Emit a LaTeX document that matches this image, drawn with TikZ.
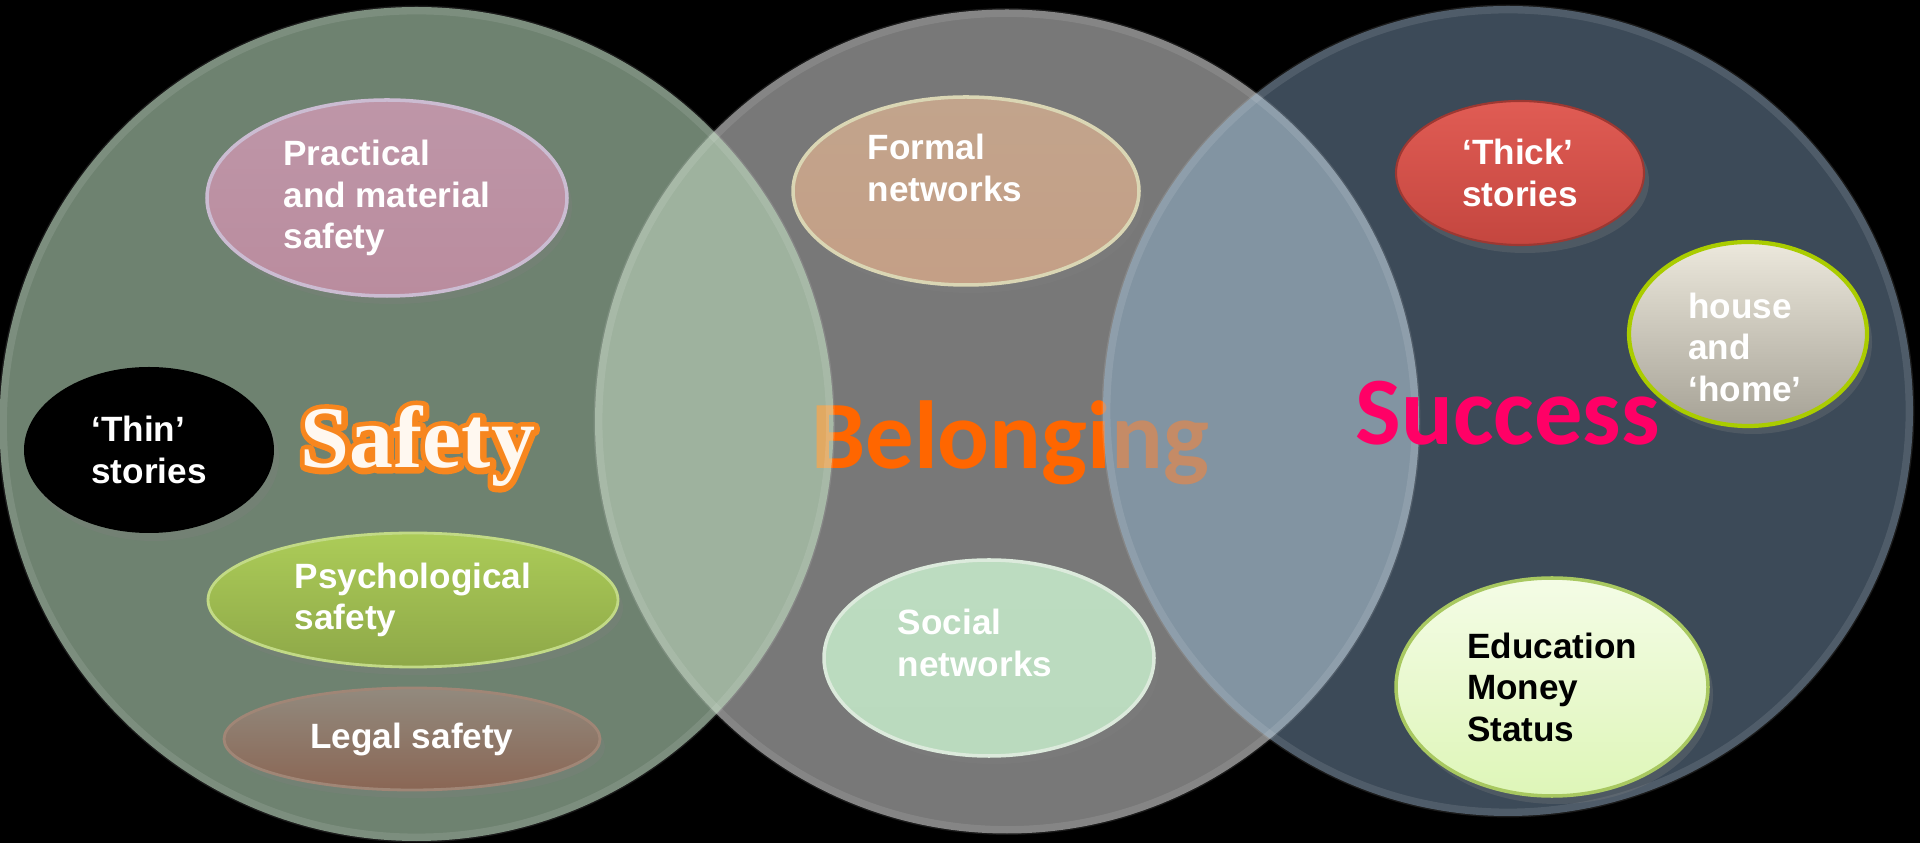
\documentclass[tikz,border=0pt]{standalone}
\usepackage{fontspec}
\setmainfont{Liberation Sans}
\newfontfamily\headfont{Carlito}
\newfontfamily\safefont{Liberation Serif}
\usetikzlibrary{shapes.geometric,shadows}

% stroked glyphs (text render mode 2), width in bp
\newcommand{\strokedtext}[2]{\special{pdf:literal direct 1 j #1 w 2 Tr}#2\special{pdf:literal direct 0 Tr}}

\definecolor{safetyC}{HTML}{6E8270}
\definecolor{belongC}{HTML}{787878}
\definecolor{successC}{HTML}{3C4A58}
\definecolor{lensL}{HTML}{C4ECC4}
\definecolor{lensR}{HTML}{8CB0CC}
\definecolor{safeOrange}{HTML}{F7861E}
\definecolor{safeWhite}{HTML}{FFF8F0}
\definecolor{belongOrange}{HTML}{FF6600}
\definecolor{successPink}{HTML}{FF0066}
\definecolor{practTop}{HTML}{BE96A8}
\definecolor{practBot}{HTML}{BA8C9E}
\definecolor{practRim}{HTML}{CBBCD2}
\definecolor{psyTop}{HTML}{ACCC58}
\definecolor{psyBot}{HTML}{8EA848}
\definecolor{psyRim}{HTML}{C2DA86}
\definecolor{legalTop}{HTML}{928A7E}
\definecolor{legalBot}{HTML}{8A6654}
\definecolor{legalRim}{HTML}{A08676}
\definecolor{formalTop}{HTML}{C2A48C}
\definecolor{formalBot}{HTML}{C49F86}
\definecolor{formalRim}{HTML}{DAD6B4}
\definecolor{socialTop}{HTML}{BCDCC0}
\definecolor{socialBot}{HTML}{BADABE}
\definecolor{socialRim}{HTML}{DCEADC}
\definecolor{thickTop}{HTML}{E05C54}
\definecolor{thickBot}{HTML}{C4463F}
\definecolor{houseTop}{HTML}{ECE8DC}
\definecolor{houseBot}{HTML}{A6A296}
\definecolor{houseRim}{HTML}{AACC00}
\definecolor{eduTop}{HTML}{F4FCE6}
\definecolor{eduBot}{HTML}{DEF6B8}
\definecolor{eduRim}{HTML}{A8C860}

\tikzset{
  bubble/.style={ellipse, inner sep=0pt, align=left, text=white,
    font=\bfseries\fontsize{10}{11.8}\selectfont,
    drop shadow={opacity=.28, shadow xshift=.05, shadow yshift=-.08}},
  bubbletxt/.style={align=left, text=white, inner sep=0pt,
    font=\bfseries\fontsize{10}{11.8}\selectfont},
  headtxt/.style={anchor=base, inner sep=0pt,
    font=\headfont\bfseries\fontsize{27.5}{30}\selectfont},
  safetxt/.style={anchor=base, inner sep=0pt,
    font=\safefont\bfseries\fontsize{25}{28}\selectfont}
}

\begin{document}
\begin{tikzpicture}
\useasboundingbox (0,0) rectangle (19.2,8.43);
\fill[black] (0,0) rectangle (19.2,8.43);

\coordinate (cSafe) at (4.165,4.19);
\coordinate (cBelong) at (10.07,4.215);
\coordinate (cSucc) at (15.08,4.32);

% the three big circles
\fill[safetyC] (cSafe) circle (4.17);
\fill[successC] (cSucc) circle (4.05);
\fill[belongC] (cBelong) circle (4.12);

\node[headtxt, text=belongOrange] (belong) at (10.10,3.74) {Belonging};

% overlaps, see-through
\begin{scope}
  \clip (cSafe) circle (4.17);
  \fill[lensL, opacity=.5] (cBelong) circle (4.12);
\end{scope}
\begin{scope}
  \clip (cSucc) circle (4.05);
  \fill[lensR, opacity=.5] (cBelong) circle (4.12);
\end{scope}

\foreach \c/\r in {cSafe/4.17, cBelong/4.12, cSucc/4.05}
  \draw[white, opacity=.1, line width=2.5pt] (\c) circle (\r-0.03);

% Safety
\node[bubble, minimum width=3.60cm, minimum height=1.96cm,
  top color=practTop, bottom color=practBot,
  draw=practRim, line width=1pt] (practical) at (3.87,6.45)
  {Practical\\and material\\safety};
\node[bubble, fill=black, minimum width=2.50cm, minimum height=1.66cm]
  (thin) at (1.49,3.93) {‘Thin’\\stories};
\node[bubble, minimum width=4.10cm, minimum height=1.34cm,
  top color=psyTop, bottom color=psyBot,
  draw=psyRim, line width=.8pt] (psych) at (4.13,2.43)
  {Psychological\\safety};
\node[bubble, minimum width=3.76cm, minimum height=1.02cm,
  top color=legalTop, bottom color=legalBot,
  draw=legalRim, line width=.8pt] (legal) at (4.12,1.04)
  {Legal safety};

\node[safetxt, text=safeOrange] (safety-rim) at (4.18,3.75) {\strokedtext{3.2}{Safety}};
\node[safetxt, text=safeWhite] (safety) at (4.18,3.75) {Safety};

% Belonging
\node[bubble, minimum width=3.46cm, minimum height=1.88cm,
  top color=formalTop, bottom color=formalBot,
  draw=formalRim, line width=1pt] (formal) at (9.66,6.52) {};
\node[bubbletxt] (formal-txt) at (9.45,6.75) {Formal\\networks};
\node[bubble, minimum width=3.30cm, minimum height=1.96cm,
  top color=socialTop, bottom color=socialBot,
  draw=socialRim, line width=1pt] (social) at (9.89,1.85) {};
\node[bubbletxt] (social-txt) at (9.75,2.00) {Social\\networks};

% Success
\node[bubble, minimum width=2.48cm, minimum height=1.44cm,
  top color=thickTop, bottom color=thickBot,
  draw=thickBot!80!black, line width=.6pt] (thick) at (15.20,6.70)
  {‘Thick’\\stories};
\node[bubble, minimum width=2.38cm, minimum height=1.84cm,
  top color=houseTop, bottom color=houseBot,
  draw=houseRim, line width=1.2pt] (house) at (17.48,5.09) {};
\node[bubbletxt] (house-txt) at (17.45,4.96) {house\\and\\‘home’};
\node[bubble, text=black, minimum width=3.12cm, minimum height=2.18cm,
  top color=eduTop, bottom color=eduBot,
  draw=eduRim, line width=1pt] (education) at (15.52,1.56)
  {Education\\Money\\Status};

\node[headtxt, text=successPink] (success) at (15.08,3.98) {Success};

\end{tikzpicture}
\end{document}
